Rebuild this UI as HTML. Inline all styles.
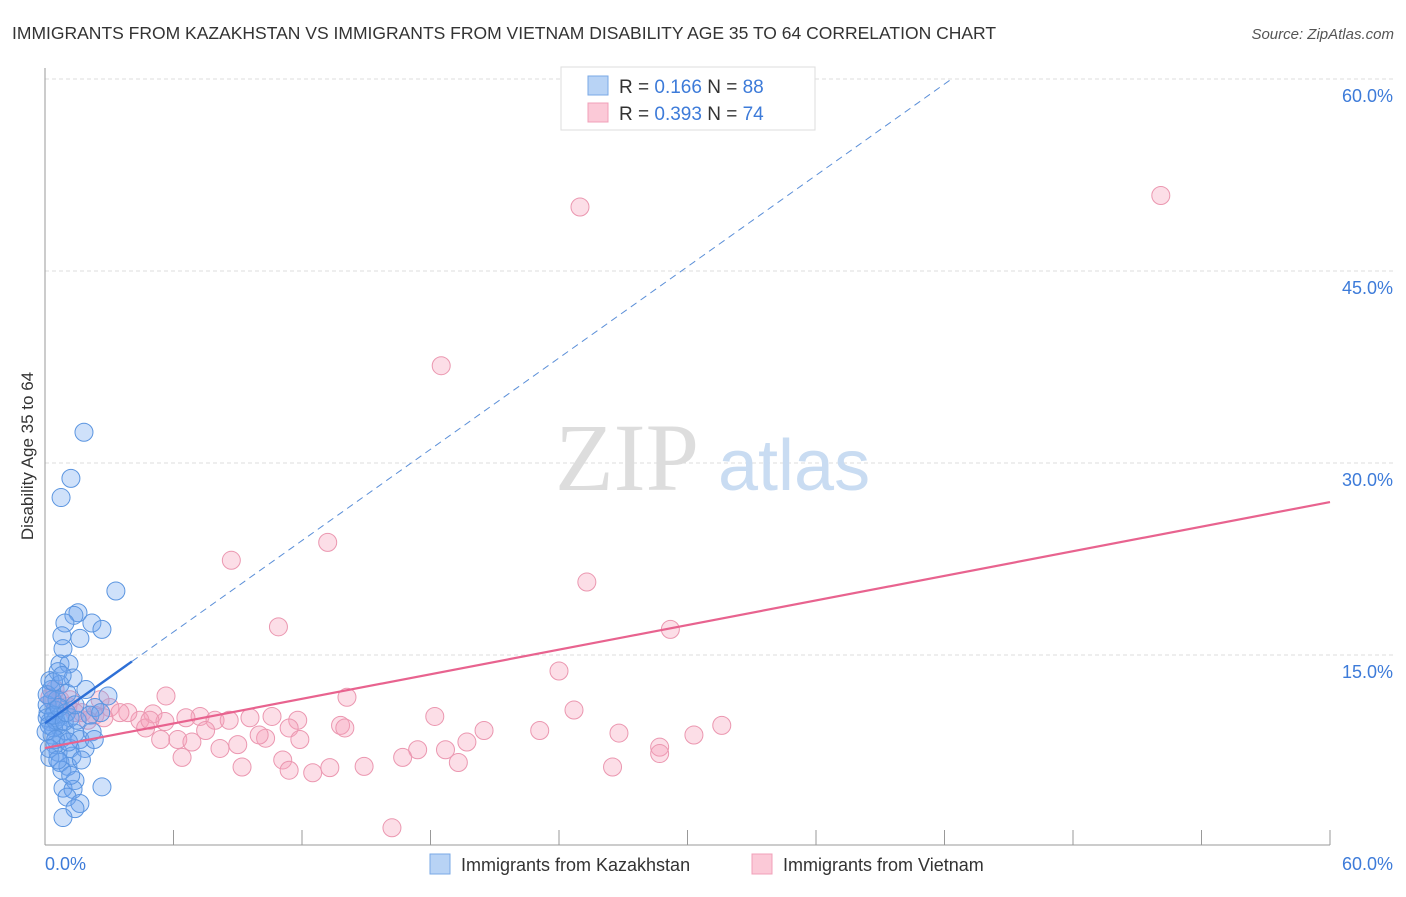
<!DOCTYPE html>
<html><head><meta charset="utf-8"><style>
body{margin:0;background:#fff;font-family:"Liberation Sans",sans-serif}
svg text{font-family:"Liberation Sans",sans-serif}
</style></head><body>
<svg id="chart" width="1406" height="892" viewBox="0 0 1406 892" xmlns="http://www.w3.org/2000/svg">
<text x="12" y="39" font-size="17.5" fill="#333">IMMIGRANTS FROM KAZAKHSTAN VS IMMIGRANTS FROM VIETNAM DISABILITY AGE 35 TO 64 CORRELATION CHART</text>
<text x="1394" y="39" font-size="15" fill="#555" font-style="italic" text-anchor="end">Source: ZipAtlas.com</text>
<text transform="translate(33,456) rotate(-90)" font-size="17" fill="#333" text-anchor="middle">Disability Age 35 to 64</text>
<g id="grid"></g>
<text x="555" y="490" font-size="96" fill="#ddd" font-family="Liberation Serif" style="font-family:'Liberation Serif',serif">ZIP</text>
<text x="718" y="490" font-size="72" fill="#c9dcf2">atlas</text>
<g id="marks"></g>
<g>
<rect x="561" y="67" width="254" height="63" fill="#fff" stroke="#ddd"/>
<rect x="588" y="76" width="20" height="19" fill="#b8d3f5" stroke="#7aa8e6"/>
<rect x="588" y="103" width="20" height="19" fill="#fbc9d7" stroke="#f0a0b8"/>
<text x="619" y="93" font-size="19" fill="#333">R = <tspan fill="#3d7bd9">0.166</tspan>   N = <tspan fill="#3d7bd9">88</tspan></text>
<text x="619" y="120" font-size="19" fill="#333">R = <tspan fill="#3d7bd9">0.393</tspan>   N = <tspan fill="#3d7bd9">74</tspan></text>
</g>
<text x="45" y="870" font-size="18" fill="#3d7bd9">0.0%</text>
<text x="1393" y="870" font-size="18" fill="#3d7bd9" text-anchor="end">60.0%</text>
<g>
<rect x="430" y="854" width="20" height="20" fill="#b8d3f5" stroke="#7aa8e6"/>
<text x="461" y="871" font-size="18" fill="#333">Immigrants from Kazakhstan</text>
<rect x="752" y="854" width="20" height="20" fill="#fbc9d7" stroke="#f0a0b8"/>
<text x="783" y="871" font-size="18" fill="#333">Immigrants from Vietnam</text>
</g>
</svg>
<script>
const yTicks=[15,30,45,60];
const yTickLabels=["15.0%","30.0%","45.0%","60.0%"];
const xTicks=[0,6,12,18,24,30,36,42,48,54,60];
const blueX=[1.82,1.21,0.75,3.31,1.54,1.35,0.93,2.19,2.66,0.79,1.63,0.84,0.70,1.12,0.61,1.31,0.23,0.70,1.91,1.03,2.94,2.33,0.33,0.47,0.14,0.70,1.17,0.23,0.61,0.93,1.40,0.33,0.79,1.63,0.47,1.17,1.87,0.61,1.26,0.23,0.70,1.07,0.79,1.40,0.84,1.31,2.66,1.03,1.63,1.40,0.84,0.1,0.2,0.4,0.5,0.1,0.3,0.56,0.05,0.4,0.65,0.9,1.0,1.5,2.1,2.6,0.5,0.2,1.1,1.7,0.1,0.4,0.8,1.4,2.2,0.6,1.2,2.3];
const blueY=[32.4,28.8,27.3,20.0,18.3,18.1,17.5,17.5,17.0,16.5,16.3,15.5,14.3,14.3,13.7,13.2,13.0,12.7,12.3,12.0,11.8,10.9,11.5,10.7,10.5,10.2,10.1,9.8,9.5,9.1,8.9,8.75,8.5,8.4,8.0,7.7,7.7,7.4,7.1,7.0,6.6,6.3,6.0,5.2,4.6,4.5,4.7,3.9,3.4,3.0,2.3,10.1,9.5,9.3,9.9,11.1,12.3,11.5,9.0,10.3,10.9,9.8,10.5,9.9,10.3,10.5,8.4,7.7,8.2,6.8,11.9,12.9,13.4,11.1,9.0,6.8,5.6,8.4];
const pinkX=[24.98,52.1,18.5,8.7,13.2,25.3,10.9,29.2,24.0,14.1,5.65,24.7,18.2,11.8,10.6,7.24,6.58,7.94,9.57,13.8,20.5,23.1,26.8,31.6,30.3,5.04,4.43,3.87,3.03,2.33,1.73,1.07,0.7,0.33,5.6,6.2,6.86,8.17,9.0,10.3,11.4,14.0,17.4,18.7,19.7,16.7,19.3,28.7,28.7,11.1,11.4,12.5,13.3,14.9,9.2,6.4,5.4,4.7,3.5,2.75,2.0,1.4,8.6,7.5,26.5,16.2,0.47,0.23,1.17,2.57,4.9,10.0,11.9];
const pinkY=[50.0,50.9,37.6,22.4,23.8,20.7,17.2,17.0,13.75,11.7,11.8,10.7,10.2,9.9,10.2,10.2,10.1,9.9,10.1,9.5,9.1,9.1,8.9,9.5,8.75,10.4,9.9,10.5,10.9,10.3,10.5,11.0,11.5,11.5,9.8,8.4,8.2,7.7,8.0,8.5,9.3,9.3,7.6,7.6,8.2,7.0,6.6,7.8,7.3,6.8,6.0,5.8,6.2,6.3,6.25,7.0,8.4,9.3,10.5,10.1,9.9,10.5,9.9,9.1,6.25,1.5,12.3,11.7,11.5,11.5,9.9,8.75,8.4];
const blueTrend=[9.67,1.189];
const pinkTrend=[7.73,0.3203];
const NS="http://www.w3.org/2000/svg";
const X0=45,X1=1330,Y0=847,PXY=12.8;
function sx(v){return X0+(X1-X0)*v/60;}
function sy(v){return Y0-v*PXY;}
function mk(tag,attrs,parent){const e=document.createElementNS(NS,tag);for(const k in attrs)e.setAttribute(k,attrs[k]);parent.appendChild(e);return e;}
const grid=document.getElementById('grid');
const marks=document.getElementById('marks');
yTicks.forEach((t,i)=>{
 const l=mk('line',{x1:45,x2:1395,y1:sy(t),y2:sy(t),stroke:'#ddd','stroke-dasharray':'4,3'},grid);
 
 
 const tx=mk('text',{x:1393,y:sy(t)+23,'font-size':18,fill:'#3d7bd9','text-anchor':'end'},grid);
 tx.textContent=yTickLabels[i];
 
 
});
const ya=mk('line',{x1:45,x2:45,y1:68,y2:845,stroke:'#999'},grid);


const xa=mk('line',{x1:45,x2:1330,y1:845,y2:845,stroke:'#999'},grid);


xTicks.forEach(t=>{
 const l=mk('line',{x1:sx(t),x2:sx(t),y1:830,y2:845,stroke:'#999'},grid);
 
 
});
for(let i=0;i<pinkX.length;i++){
 const c=mk('circle',{cx:sx(pinkX[i]),cy:sy(pinkY[i]),r:9,fill:'rgba(245,160,185,0.35)',stroke:'#eb97b0','stroke-width':1},marks);
 
 
}
for(let i=0;i<blueX.length;i++){
 const c=mk('circle',{cx:sx(blueX[i]),cy:sy(blueY[i]),r:9,fill:'rgba(110,165,240,0.33)',stroke:'#5b95e0','stroke-width':1},marks);
 
 
}
const pl=mk('line',{x1:sx(0),y1:sy(pinkTrend[0]),x2:sx(60),y2:sy(pinkTrend[0]+60*pinkTrend[1]),stroke:'#e8638f','stroke-width':2.2},marks);


const bs=4.06,be=(60-blueTrend[0])/blueTrend[1];
const bl=mk('line',{x1:sx(0),y1:sy(blueTrend[0]),x2:sx(bs),y2:sy(blueTrend[0]+bs*blueTrend[1]),stroke:'#2d6fd6','stroke-width':2.4},marks);


const bd=mk('line',{x1:sx(bs),y1:sy(blueTrend[0]+bs*blueTrend[1]),x2:sx(be),y2:sy(60),stroke:'#5b8fd8','stroke-width':1,'stroke-dasharray':'7,5'},marks);


</script>
</body></html>
